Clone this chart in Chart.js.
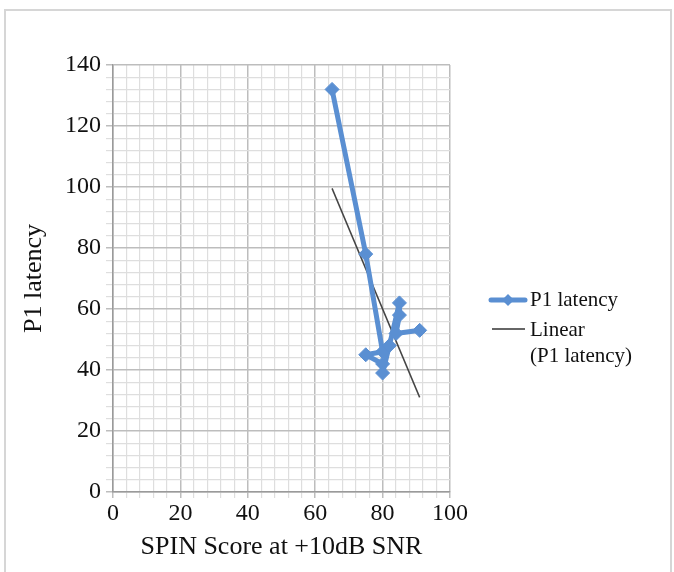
<!DOCTYPE html>
<html>
<head>
<meta charset="utf-8">
<script src="https://cdn.jsdelivr.net/npm/chart.js@4.4.0/dist/chart.umd.min.js"></script>
<style>
  html, body { margin: 0; padding: 0; background: #fff; }
  #wrap { position: relative; width: 674px; height: 572px; overflow: hidden; }
  #frame { position: absolute; left: 4px; top: 9px; width: 668px; height: 600px; border: 2px solid #d6d6d6; box-sizing: border-box; }
  canvas { position: absolute; left: 0; top: 0; }
</style>
</head>
<body>
<div id="wrap">
  <div id="frame"></div>
  <canvas id="chart" width="674" height="572"></canvas>
</div>
<script>
// data
const spinScore = [65, 75, 80, 75, 80, 80, 82, 85, 85, 84, 91];
const p1Latency = [132, 78, 46, 45, 42, 39, 48, 62, 58, 52, 53];
const xTickLabels = [0, 20, 40, 60, 80, 100];
const yTickLabels = [0, 20, 40, 60, 80, 100, 120, 140];

const blue = "#5a8fd2";
const serif = "'Liberation Serif', 'DejaVu Serif', serif";

// linear trend (least squares) like Excel
function linearFit(xs, ys) {
  const n = xs.length;
  const mx = xs.reduce((a, b) => a + b, 0) / n;
  const my = ys.reduce((a, b) => a + b, 0) / n;
  let sxy = 0, sxx = 0;
  for (let i = 0; i < n; i++) {
    sxy += (xs[i] - mx) * (ys[i] - my);
    sxx += (xs[i] - mx) * (xs[i] - mx);
  }
  const slope = sxy / sxx;
  return x => my + slope * (x - mx);
}
const fit = linearFit(spinScore, p1Latency);
const xMin = Math.min(...spinScore), xMax = Math.max(...spinScore);
const trendPoints = [{ x: xMin, y: fit(xMin) }, { x: xMax, y: fit(xMax) }];

const mainPoints = spinScore.map((x, i) => ({ x: x, y: p1Latency[i] }));

const isMajor = (v, list) => list.includes(v);

// legend drawn by hand on the right
const sideLegend = {
  id: "sideLegend",
  afterDraw(chart) {
    const ctx = chart.ctx;
    ctx.save();
    ctx.font = "21px " + serif;
    ctx.fillStyle = "#111";
    ctx.textBaseline = "middle";
    // series 1
    ctx.strokeStyle = blue;
    ctx.lineWidth = 5;
    ctx.lineCap = "round";
    ctx.beginPath(); ctx.moveTo(491, 300); ctx.lineTo(525, 300); ctx.stroke();
    ctx.fillStyle = blue;
    ctx.beginPath();
    ctx.moveTo(508, 294); ctx.lineTo(514, 300); ctx.lineTo(508, 306); ctx.lineTo(502, 300);
    ctx.closePath(); ctx.fill();
    ctx.fillStyle = "#111";
    ctx.fillText("P1 latency", 530, 300);
    // trend
    ctx.strokeStyle = "#666";
    ctx.lineWidth = 2;
    ctx.lineCap = "butt";
    ctx.beginPath(); ctx.moveTo(492, 329); ctx.lineTo(525, 329); ctx.stroke();
    ctx.fillText("Linear", 530, 330);
    ctx.fillText("(P1 latency)", 530, 356);
    ctx.restore();
  }
};

new Chart(document.getElementById("chart"), {
  type: "scatter",
  data: {
    datasets: [
      {
        label: "P1 latency",
        data: mainPoints,
        showLine: true,
        borderColor: blue,
        backgroundColor: blue,
        borderWidth: 5,
        borderJoinStyle: "round",
        borderCapStyle: "round",
        pointStyle: "rectRot",
        pointRadius: 7,
        pointHoverRadius: 7,
        pointBorderWidth: 1
      },
      {
        label: "Linear (P1 latency)",
        data: trendPoints,
        showLine: true,
        borderColor: "#444",
        borderWidth: 1.5,
        pointRadius: 0
      }
    ]
  },
  options: {
    responsive: false,
    animation: false,
    layout: { padding: { top: 65, right: 224, bottom: 0, left: 0 } },
    plugins: { legend: { display: false }, tooltip: { enabled: false } },
    scales: {
      x: {
        type: "linear",
        min: 0,
        max: 100,
        afterFit: s => { s.height = 80; },
        border: { color: "#9a9a9a", width: 1.5 },
        grid: {
          color: c => isMajor(c.tick.value, xTickLabels) ? "#bdbdbd" : "#dedede",
          lineWidth: c => isMajor(c.tick.value, xTickLabels) ? 1.5 : 1.2,
          tickLength: 6
        },
        ticks: {
          stepSize: 4,
          autoSkip: false,
          maxRotation: 0,
          padding: 1,
          color: "#111",
          font: { family: serif, size: 24 },
          callback: v => isMajor(v, xTickLabels) ? v : ""
        },
        title: {
          display: true,
          text: "SPIN Score at +10dB SNR",
          color: "#111",
          font: { family: serif, size: 26 },
          padding: { top: 0, bottom: 9 }
        }
      },
      y: {
        type: "linear",
        min: 0,
        max: 140,
        afterFit: s => { s.width = 113; },
        border: { color: "#9a9a9a", width: 1.5 },
        grid: {
          color: c => isMajor(c.tick.value, yTickLabels) ? "#bdbdbd" : "#dedede",
          lineWidth: c => isMajor(c.tick.value, yTickLabels) ? 1.5 : 1.2,
          tickLength: 7
        },
        ticks: {
          stepSize: 4,
          autoSkip: false,
          padding: 5,
          color: "#111",
          font: { family: serif, size: 24 },
          callback: v => isMajor(v, yTickLabels) ? v : ""
        },
        title: {
          display: true,
          text: "P1 latency",
          color: "#111",
          font: { family: serif, size: 26 },
          padding: { top: 19, bottom: 0 }
        }
      }
    }
  },
  plugins: [sideLegend]
});
</script>
</body>
</html>
